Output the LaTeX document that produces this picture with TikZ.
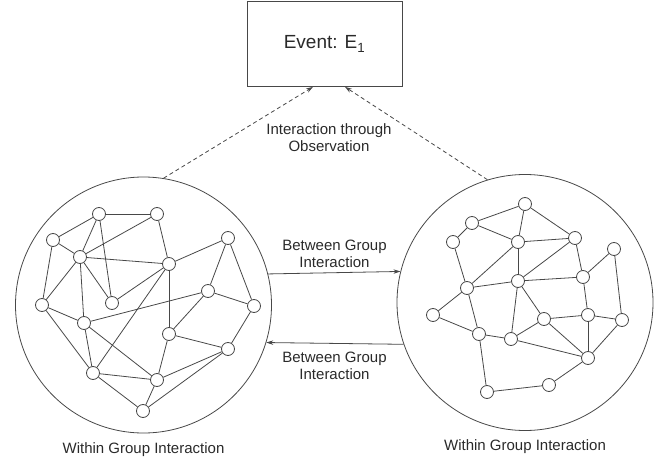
\documentclass[tikz,border=0pt]{standalone}
\usepackage{fontspec}
\setmainfont{Liberation Sans}
\usepackage{tikz}
\usetikzlibrary{shapes,arrows,arrows.meta,positioning,calc}
\definecolor{inkgray}{HTML}{484848}
\definecolor{txtgray}{HTML}{2A2A2A}
\tikzset{grp/.style={draw=inkgray, circle, line width=0.8pt, minimum size=256pt, inner sep=0pt}}
\tikzstyle{member}=[draw=inkgray, circle, fill=white, line width=0.8pt, minimum size=13pt, inner sep=0pt]
\tikzstyle{lbl}=[text=txtgray, align=center, inner sep=0pt, font=\fontsize{15}{17}\selectfont]
\tikzstyle{obsline}=[->, draw=inkgray, dash pattern=on 4pt off 3pt]

\begin{document}
\begin{tikzpicture}[x=1pt, y=-1pt, >={Stealth[length=7pt,width=4.5pt]}, line width=0.8pt]
\useasboundingbox (0,0) rectangle (670,463);
\node[draw=inkgray, rectangle, minimum width=155pt, minimum height=85pt, inner sep=0pt,
      text=txtgray, font=\fontsize{19}{22}\selectfont] (ev) at (324.5,44) {Event: E\textsubscript{1}};
\node[grp] (grpL) at (143.5,305) {};
\node[grp] (grpR) at (525,302.5) {};

% left group
\node[member] (a1) at (99,214) {};
\node[member] (a2) at (157,214) {};
\node[member] (a3) at (53,240) {};
\node[member] (a4) at (80,257) {};
\node[member] (a5) at (169,264) {};
\node[member] (a6) at (228,238) {};
\node[member] (a7) at (42,305) {};
\node[member] (a8) at (112,303) {};
\node[member] (a9) at (208,291) {};
\node[member] (a10) at (254,306) {};
\node[member] (a11) at (84,323) {};
\node[member] (a12) at (169,334) {};
\node[member] (a13) at (228,349) {};
\node[member] (a14) at (93,373) {};
\node[member] (a15) at (157,380) {};
\node[member] (a16) at (143,411) {};
\path[draw=inkgray]
      (a1) edge (a2) edge (a3) edge (a4) edge (a8)
      (a2) edge (a4) edge (a5)
      (a3) edge (a4) edge (a7)
      (a4) edge (a5) edge (a7) edge (a8) edge (a11)
      (a5) edge (a6) edge (a8) edge (a12) edge (a14)
      (a6) edge (a9) edge (a10)
      (a7) edge (a11) edge (a14)
      (a9) edge (a10) edge (a11) edge (a12)
      (a10) edge (a13)
      (a11) edge (a14) edge (a15)
      (a12) edge (a13) edge (a15)
      (a13) edge (a15) edge (a16)
      (a14) edge (a15) edge (a16)
      (a15) edge (a16);

% right group
\node[member] (b1) at (525,204) {};
\node[member] (b2) at (472,223) {};
\node[member] (b3) at (453,242) {};
\node[member] (b4) at (518,242) {};
\node[member] (b5) at (575,238) {};
\node[member] (b6) at (614,249) {};
\node[member] (b7) at (583,277) {};
\node[member] (b8) at (518,281) {};
\node[member] (b9) at (467,288) {};
\node[member] (b10) at (433,315) {};
\node[member] (b11) at (544,319) {};
\node[member] (b12) at (588,315) {};
\node[member] (b13) at (622,320) {};
\node[member] (b14) at (479,334) {};
\node[member] (b15) at (511,339) {};
\node[member] (b16) at (588,358) {};
\node[member] (b17) at (549,385) {};
\node[member] (b18) at (487,392) {};
\path[draw=inkgray]
      (b1) edge (b2) edge (b4) edge (b5)
      (b2) edge (b3) edge (b4)
      (b3) edge (b9)
      (b4) edge (b5) edge (b8) edge (b9)
      (b5) edge (b7) edge (b8)
      (b6) edge (b7) edge (b13)
      (b7) edge (b8) edge (b12)
      (b8) edge (b9) edge (b15) edge (b11)
      (b9) edge (b10) edge (b14)
      (b10) edge (b14)
      (b11) edge (b12) edge (b15) edge (b16)
      (b12) edge (b13) edge (b16)
      (b13) edge (b16)
      (b14) edge (b15) edge (b18)
      (b15) edge (b16)
      (b16) edge (b17)
      (b17) edge (b18);

% between the groups
\draw[->, draw=inkgray] (grpL.14.5) -- (grpR.166.7);
\draw[->, draw=inkgray] (grpR.199) -- (grpL.-17.7);
\node[lbl] (btwUp) at (334.5,253.5) {Between Group\\Interaction};
\node[lbl] (btwDn) at (334.5,365.5) {Between Group\\Interaction};

% observation
\draw[obsline] (grpL.81) -- ([xshift=-11.5pt]ev.south);
\draw[obsline] (grpR.107) -- ([xshift=20.5pt]ev.south);
\node[lbl] (obs) at (329,138) {Interaction through\\Observation};

\node[lbl, below=9pt of grpL] (inL) {Within Group Interaction};
\node[lbl, below=8.5pt of grpR] (inR) {Within Group Interaction};
\end{tikzpicture}
\end{document}
